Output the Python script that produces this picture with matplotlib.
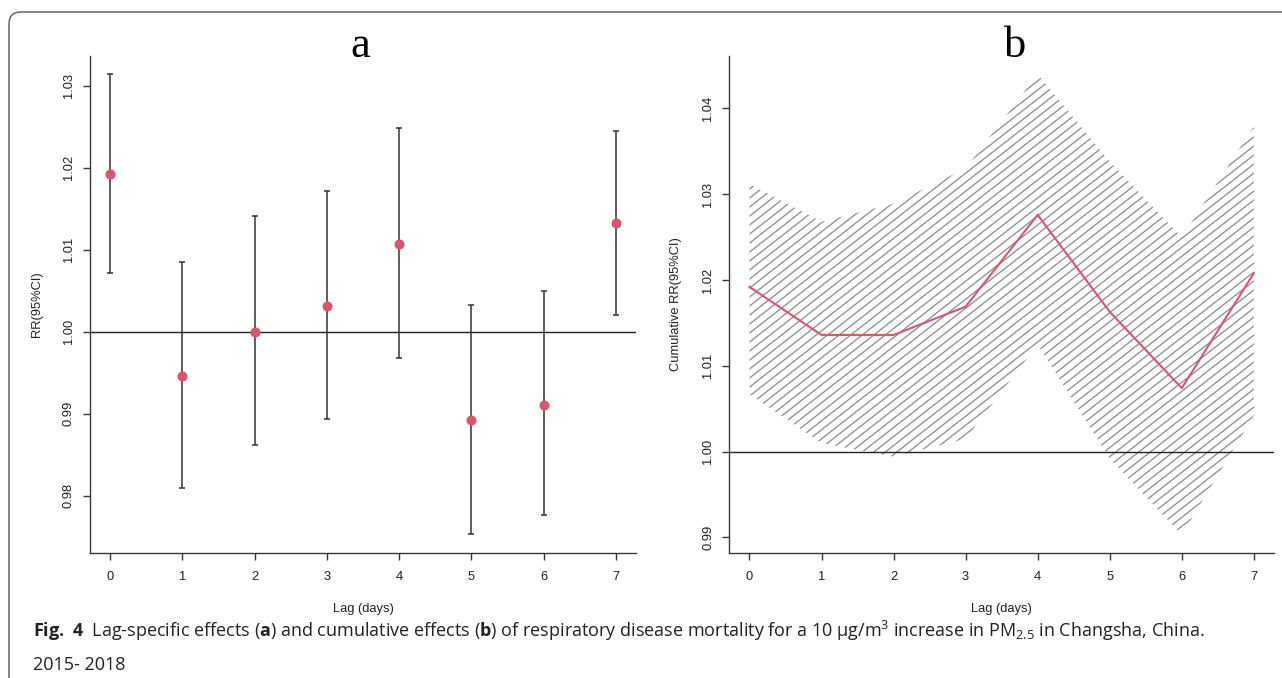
import numpy as np
import matplotlib
matplotlib.use('Agg')
import matplotlib.pyplot as plt
from matplotlib.collections import LineCollection
from matplotlib.patches import FancyBboxPatch
from matplotlib.ticker import FormatStrFormatter

# data
lags = [0, 1, 2, 3, 4, 5, 6, 7]

# panel a: lag-specific RR with 95% CI
rr_lag = [1.0192, 0.9946, 1.0000, 1.0031, 1.0107, 0.9892, 0.9911, 1.0132]
rr_lag_lo = [1.0072, 0.9809, 0.9862, 0.9893, 0.9968, 0.9753, 0.9777, 1.0020]
rr_lag_hi = [1.0314, 1.0085, 1.0141, 1.0171, 1.0248, 1.0033, 1.0049, 1.0245]

# panel b: cumulative RR with 95% CI
rr_cum = [1.0192, 1.0136, 1.0136, 1.0169, 1.0276, 1.0163, 1.0074, 1.0208]
rr_cum_lo = [1.0067, 1.0010, 0.9994, 1.0015, 1.0125, 0.9992, 0.9903, 1.0042]
rr_cum_hi = [1.0312, 1.0268, 1.0289, 1.0330, 1.0440, 1.0338, 1.0250, 1.0379]

yticks_a = [0.98, 0.99, 1.00, 1.01, 1.02, 1.03]
yticks_b = [0.99, 1.00, 1.01, 1.02, 1.03, 1.04]

RED = '#DF536B'
AXC = '#3a3a3a'
FS = 9.3

W, H, DPI = 12.82, 6.78, 100


def r_lim(lo, hi):
    # R style 4% padding
    lo, hi = min(lo), max(hi)
    pad = (hi - lo) * 0.04
    return lo - pad, hi + pad


def px_axes(fig, left, top, right, bottom):
    return fig.add_axes([left / (W * DPI), 1 - bottom / (H * DPI),
                         (right - left) / (W * DPI), (bottom - top) / (H * DPI)])


def style_axes(ax, yticks, ylabel):
    for s in ['top', 'right']:
        ax.spines[s].set_visible(False)
    for s in ['left', 'bottom']:
        ax.spines[s].set_color(AXC)
        ax.spines[s].set_linewidth(1.0)
    ax.set_xticks(lags)
    ax.set_yticks(yticks)
    ax.yaxis.set_major_formatter(FormatStrFormatter('%.2f'))
    ax.tick_params(direction='out', length=5, width=1.0, color=AXC,
                   labelsize=FS, labelcolor='#222222')
    ax.tick_params(axis='x', pad=8)
    ax.tick_params(axis='y', pad=6)
    for lbl in ax.get_yticklabels():
        lbl.set_rotation(90)
        lbl.set_va('center')
    ax.set_xlim(-0.28, 7.28)
    ax.set_xlabel('Lag (days)', fontsize=FS, color='#222222', va='center')
    ax.xaxis.set_label_coords(0.5, -56 / 497)
    ax.set_ylabel(ylabel, fontsize=FS, color='#222222', va='center')
    ax.yaxis.set_label_coords(-53 / 545, 0.5)
    ax.axhline(1.0, color='#222222', lw=1.0, zorder=2)


def hatch_band(ax, band, angle=38, gap=9.0):
    # R polygon(density=...) style shading
    pos = ax.get_position()
    w = pos.width * W * DPI
    h = pos.height * H * DPI
    t = np.tan(np.radians(angle))
    offs = np.arange(-w * t, h + gap, gap)
    segs = [[(0, c / h), (1, (c + w * t) / h)] for c in offs]
    lc = LineCollection(segs, transform=ax.transAxes, colors='#8a8a8a',
                        linewidths=0.9, zorder=1)
    ax.add_collection(lc, autolim=False)
    lc.set_clip_path(band.get_paths()[0], ax.transData)


plt.rcParams['font.family'] = ['Liberation Sans', 'DejaVu Sans']
plt.rcParams['mathtext.fontset'] = 'custom'
plt.rcParams['mathtext.rm'] = 'Open Sans'
plt.rcParams['mathtext.bf'] = 'Open Sans:bold'
plt.rcParams['mathtext.it'] = 'Open Sans:italic'

fig = plt.figure(figsize=(W, H), dpi=DPI)

# panel a
ax1 = px_axes(fig, 90, 55.7, 636, 552.7)
err = [np.array(rr_lag) - np.array(rr_lag_lo), np.array(rr_lag_hi) - np.array(rr_lag)]
ax1.errorbar(lags, rr_lag, yerr=err, fmt='none', ecolor='#333333', elinewidth=1.1,
             capsize=2.2, capthick=1.1, zorder=3)
ax1.plot(lags, rr_lag, 'o', color=RED, ms=6.2, zorder=4)
style_axes(ax1, yticks_a, 'RR(95%CI)')
ax1.set_ylim(*r_lim(rr_lag_lo, rr_lag_hi))

# panel b
ax2 = px_axes(fig, 729.3, 55.7, 1274, 553.3)
band = ax2.fill_between(lags, rr_cum_lo, rr_cum_hi, facecolor='none', edgecolor='none')
style_axes(ax2, yticks_b, 'Cumulative RR(95%CI)')
ax2.set_ylim(*r_lim(rr_cum_lo, rr_cum_hi))
hatch_band(ax2, band)
ax2.plot(lags, rr_cum, color=RED, lw=1.5, zorder=4)

# panel letters
fig.text(360 / (W * DPI), 1 - 57 / (H * DPI), 'a', family='Liberation Serif',
         fontsize=32, ha='center', va='baseline')
fig.text(1015 / (W * DPI), 1 - 57 / (H * DPI), 'b', family='Liberation Serif',
         fontsize=32, ha='center', va='baseline')

# caption
cap1 = (r'$\mathbf{Fig.\ 4}$  Lag-specific effects ($\mathbf{a}$) and cumulative effects '
        r'($\mathbf{b}$) of respiratory disease mortality for a 10 μg/m$^3$ increase in '
        r'PM$_{2.5}$ in Changsha, China.')
fig.text(33 / (W * DPI), 1 - 637 / (H * DPI), cap1, family='Open Sans',
         fontsize=13, color='#222222', va='baseline')
fig.text(33 / (W * DPI), 1 - 670 / (H * DPI), '2015- 2018', family='Open Sans',
         fontsize=13, color='#222222', va='baseline')

# rounded frame
frame = FancyBboxPatch((0.09, -0.5), 13.5, 6.78 - 0.12 + 0.5,
                       boxstyle='round,pad=0,rounding_size=0.12',
                       transform=fig.dpi_scale_trans, fill=False,
                       edgecolor='#666666', lw=1.1)
fig.add_artist(frame)

fig.savefig('out.png', dpi=DPI)
